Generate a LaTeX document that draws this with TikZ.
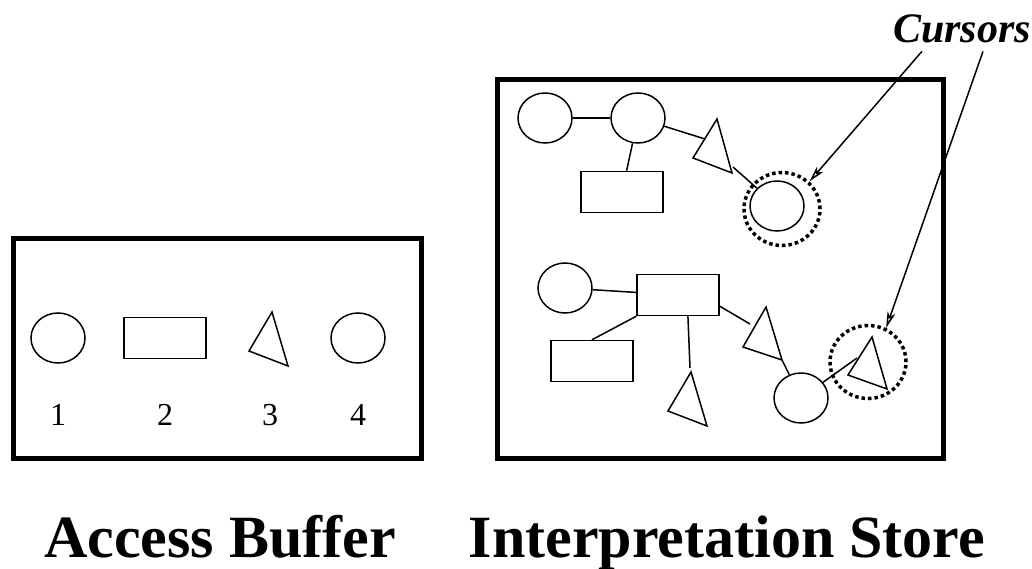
\documentclass[tikz,border=0pt]{standalone}
\usepackage{fontspec}
\setmainfont{Liberation Serif}
\usetikzlibrary{positioning}
\usetikzlibrary{shapes.geometric,arrows.meta}

\tikzset{
  blob/.style={draw, ellipse, line width=1.5pt, minimum width=54pt, minimum height=50pt, inner sep=0pt},
  slab/.style={draw, rectangle, line width=1.5pt, minimum width=82pt, minimum height=41pt, inner sep=0pt},
  ring/.style={draw, ellipse, line width=3.5pt, dash pattern=on 3.5pt off 3pt, minimum width=76pt, minimum height=73pt, inner sep=0pt},
  link/.style={line width=1.5pt},
  frame/.style={line width=5pt},
  pointer/.style={line width=1.5pt, -{Stealth[open, length=16pt, width=8pt, inset=4pt]}},
  digit/.style={font=\fontsize{32}{34}\selectfont, inner sep=0pt},
  caption/.style={font=\fontsize{60}{64}\selectfont\bfseries, anchor=base, inner sep=0pt}
}

\begin{document}
\begin{tikzpicture}[x=1pt, y=-1pt]

  \useasboundingbox (0,0) rectangle (1032,569);

  % access buffer
  \draw[frame] (13,238) rectangle (421,458);
  \node[blob] (b1) at (58,338) {};
  \node[slab] (b2) at (165,338) {};
  \coordinate (b3a) at (272,312);
  \coordinate (b3b) at (249,351);
  \coordinate (b3c) at (288,366);
  \draw[link] (b3a) -- (b3b) -- (b3c) -- cycle;
  \node[blob] (b4) at (358,338) {};

  \foreach \num/\x in {1/58, 2/165, 3/270, 4/358} {
    \node[digit] (n\num) at (\x,415) {\num};
  }

  % interpretation store
  \draw[frame] (497,80) rectangle (943,458);

  % upper structure
  \node[blob] (sa) at (545,118) {};
  \node[blob] (sb) at (638,118) {};
  \node[slab] (sr) at (622,192) {};
  \coordinate (st1) at (717,119);
  \coordinate (st2) at (693,158);
  \coordinate (st3) at (732,173);
  \draw[link] (st1) -- (st2) -- (st3) -- cycle;
  \coordinate (stin) at (705,139);
  \coordinate (stout) at (733,167);
  \node[blob] (sc) at (777,206) {};
  \node[ring] (cur1) at (782,209) {};

  \draw[link] (sa) -- (sb);
  \draw[link] (sb) -- (sr);
  \draw[link] (sb) -- (stin);
  \draw[link] (stout) -- (sc);

  % lower structure
  \node[blob] (ld) at (565,288) {};
  \node[slab] (le) at (678,295) {};
  \node[slab] (lf) at (592,361) {};
  \coordinate (lg1) at (691,372);
  \coordinate (lg2) at (668,411);
  \coordinate (lg3) at (707,426);
  \draw[link] (lg1) -- (lg2) -- (lg3) -- cycle;
  \coordinate (lgin) at (690,368);
  \coordinate (lh1) at (766,307);
  \coordinate (lh2) at (743,347);
  \coordinate (lh3) at (782,360);
  \draw[link] (lh1) -- (lh2) -- (lh3) -- cycle;
  \coordinate (lhin) at (750,324);
  \node[blob] (li) at (801,398) {};
  \coordinate (lj1) at (872,337);
  \coordinate (lj2) at (848,375);
  \coordinate (lj3) at (887,389);
  \draw[link] (lj1) -- (lj2) -- (lj3) -- cycle;
  \coordinate (ljin) at (857,358);
  \node[ring] (cur2) at (868,362) {};

  \draw[link] (ld) -- (le);
  \draw[link] (le.south west) -- (lf.north);
  \draw[link] (le.-65) -- (lgin);
  \draw[link] (le.-15) -- (lhin);
  \draw[link] (lh3) -- (li);
  \draw[link] (li) -- (ljin);

  % cursors
  \node[font=\fontsize{42}{46}\selectfont\bfseries\itshape, inner sep=0pt] (cur) at (962,29) {Cursors};
  \coordinate (curl) at ([xshift=29pt, yshift=-8pt]cur.south west);
  \coordinate (curr) at ([xshift=21pt, yshift=-8pt]cur.south);
  \draw[pointer] (curl) -- (cur1.45);
  \draw[pointer] (curr) -- (cur2.62);

  % captions
  \node[caption] (abuf) at (220,557) {Access Buffer};
  \node[caption] (istore) at (727,557) {Interpretation Store};

\end{tikzpicture}
\end{document}
